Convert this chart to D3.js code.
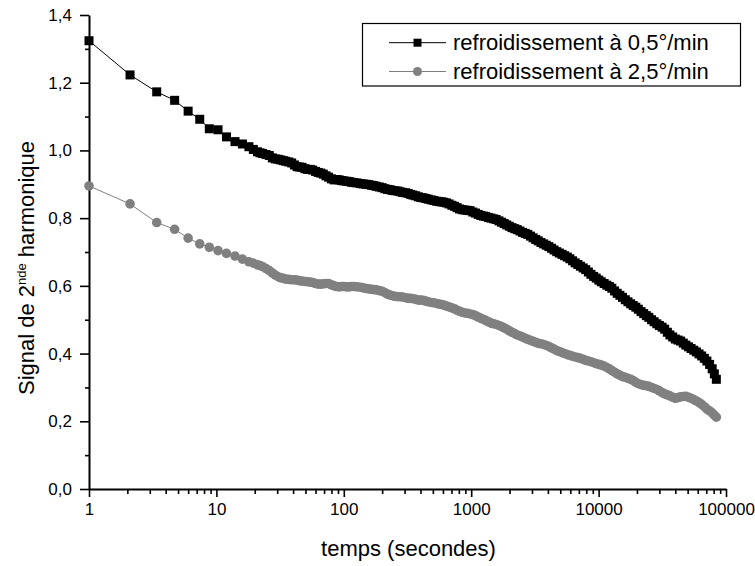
<!DOCTYPE html>
<html>
<head>
<meta charset="utf-8">
<script src="https://cdn.jsdelivr.net/npm/d3@7"></script>
<style>
  html, body { margin: 0; padding: 0; background: #fff; }
  svg { display: block; font-family: "Liberation Sans", Arial, sans-serif; }
</style>
</head>
<body>
<svg id="chart" width="755" height="566"></svg>
<script>
// ---- data ----
const times = [
  1, 2.1, 3.4, 4.7, 6, 7.4, 8.8, 10.3, 12, 14, 16, 18, 19.5,
  21, 22, 23, 24.5, 26, 27.5, 29, 30.5, 32, 33.5, 35, 37, 39, 41, 43, 45,
  47, 49.5, 52, 54.5, 57, 60, 63, 66, 69, 72.5, 76, 80, 84, 88, 92, 96,
  100, 105, 110, 115, 120, 127, 135, 142, 150, 157, 165, 172, 180, 190, 200, 210,
  220, 230, 240, 252, 265, 277, 290, 305, 320, 335, 350, 367, 385, 402, 420, 440,
  460, 485, 510, 535, 560, 585, 610, 640, 670, 705, 740, 775, 810, 850, 890, 935, 980,
  1030, 1080, 1135, 1190, 1245, 1300, 1365, 1430, 1500, 1570, 1650, 1730, 1815, 1900, 1995, 2090,
  2195, 2300, 2415, 2530, 2655, 2780, 2920, 3060, 3210, 3360, 3530, 3700, 3885, 4070, 4270, 4470,
  4695, 4920, 5165, 5410, 5680, 5950, 6250, 6550, 6875, 7200, 7560, 7920, 8315, 8710, 9145, 9580,
  10040, 10500, 11050, 11600, 12150, 12700, 13350, 14000, 14700, 15400, 16200, 17000, 17850, 18700, 19600, 20500,
  21550, 22600, 23700, 24800, 26050, 27300, 28650, 30000, 31500, 33000, 34650, 36300, 38150, 40000, 42000, 44000,
  46200, 48400, 50800, 53200, 55850, 58500, 61450, 64400, 67600, 70800, 74350, 77900, 81000, 84000];

const slowCooling = [
  1.324, 1.223, 1.173, 1.148, 1.116, 1.092, 1.064, 1.061, 1.040, 1.026, 1.019, 1.011, 1.003,
  0.996, 0.993, 0.991, 0.988, 0.985, 0.978, 0.975, 0.974, 0.972, 0.970, 0.968, 0.966, 0.963, 0.957, 0.952, 0.951,
  0.950, 0.946, 0.944, 0.944, 0.942, 0.938, 0.935, 0.933, 0.930, 0.925, 0.921, 0.916, 0.913, 0.914, 0.913, 0.911,
  0.910, 0.909, 0.908, 0.906, 0.905, 0.904, 0.902, 0.901, 0.900, 0.899, 0.897, 0.896, 0.894, 0.892, 0.890, 0.887,
  0.885, 0.884, 0.882, 0.881, 0.880, 0.878, 0.876, 0.875, 0.873, 0.870, 0.868, 0.866, 0.863, 0.861, 0.860, 0.858,
  0.856, 0.854, 0.852, 0.850, 0.849, 0.848, 0.847, 0.845, 0.842, 0.838, 0.835, 0.831, 0.827, 0.825, 0.824, 0.823, 0.822,
  0.818, 0.815, 0.811, 0.808, 0.806, 0.805, 0.802, 0.800, 0.798, 0.796, 0.792, 0.788, 0.784, 0.780, 0.776, 0.772,
  0.769, 0.766, 0.762, 0.758, 0.755, 0.752, 0.747, 0.742, 0.737, 0.733, 0.728, 0.724, 0.720, 0.716, 0.711, 0.706,
  0.701, 0.697, 0.693, 0.689, 0.685, 0.680, 0.674, 0.668, 0.663, 0.658, 0.653, 0.648, 0.641, 0.634, 0.628, 0.623,
  0.617, 0.612, 0.607, 0.602, 0.598, 0.593, 0.585, 0.578, 0.572, 0.566, 0.559, 0.553, 0.547, 0.542, 0.537, 0.531,
  0.524, 0.518, 0.512, 0.507, 0.500, 0.494, 0.488, 0.483, 0.478, 0.472, 0.463, 0.455, 0.449, 0.443, 0.440, 0.437,
  0.431, 0.425, 0.420, 0.415, 0.410, 0.405, 0.399, 0.393, 0.386, 0.378, 0.368, 0.355, 0.340, 0.324];

const fastCooling = [
  0.895, 0.842, 0.787, 0.767, 0.741, 0.724, 0.714, 0.704, 0.696, 0.688, 0.679, 0.671, 0.667,
  0.662, 0.660, 0.657, 0.651, 0.645, 0.638, 0.632, 0.627, 0.624, 0.622, 0.620, 0.619, 0.618, 0.618, 0.617, 0.615,
  0.614, 0.613, 0.612, 0.611, 0.610, 0.607, 0.605, 0.605, 0.606, 0.607, 0.607, 0.603, 0.600, 0.598, 0.597, 0.598,
  0.598, 0.597, 0.597, 0.598, 0.598, 0.597, 0.596, 0.594, 0.592, 0.591, 0.590, 0.589, 0.588, 0.586, 0.584, 0.580,
  0.576, 0.573, 0.571, 0.569, 0.568, 0.568, 0.567, 0.565, 0.563, 0.563, 0.562, 0.560, 0.558, 0.558, 0.557, 0.555,
  0.553, 0.551, 0.550, 0.548, 0.546, 0.545, 0.543, 0.540, 0.538, 0.535, 0.532, 0.528, 0.525, 0.522, 0.520, 0.519, 0.517,
  0.515, 0.512, 0.508, 0.504, 0.501, 0.498, 0.494, 0.490, 0.488, 0.486, 0.483, 0.480, 0.476, 0.472, 0.467, 0.463,
  0.459, 0.455, 0.452, 0.449, 0.445, 0.442, 0.439, 0.436, 0.433, 0.430, 0.429, 0.427, 0.424, 0.421, 0.417, 0.413,
  0.409, 0.406, 0.403, 0.400, 0.397, 0.395, 0.392, 0.390, 0.388, 0.386, 0.383, 0.380, 0.378, 0.376, 0.373, 0.370,
  0.368, 0.366, 0.363, 0.359, 0.355, 0.350, 0.345, 0.340, 0.336, 0.332, 0.330, 0.327, 0.324, 0.320, 0.315, 0.311,
  0.308, 0.306, 0.305, 0.303, 0.300, 0.297, 0.294, 0.290, 0.285, 0.281, 0.278, 0.275, 0.271, 0.268, 0.270, 0.272,
  0.273, 0.274, 0.271, 0.268, 0.264, 0.260, 0.255, 0.250, 0.243, 0.236, 0.231, 0.225, 0.218, 0.212];

const seriesNames = ["refroidissement à 0,5°/min", "refroidissement à 2,5°/min"];
const xMajorTicks = [1, 10, 100, 1000, 10000, 100000];
const yMajorTicks = [0, 0.2, 0.4, 0.6, 0.8, 1.0, 1.2, 1.4];
const yMinorTicks = [0.1, 0.3, 0.5, 0.7, 0.9, 1.1, 1.3];
const xTitle = "temps (secondes)";

// ---- layout ----
(function () {
const svg = d3.select("#chart");
const mLeft = 89, mRight = 726, mTop = 15, mBottom = 489;

const x = d3.scaleLog().domain([1, 100000]).range([mLeft, mRight]);
const y = d3.scaleLinear().domain([0, 1.4]).range([mBottom, mTop]);

const xMinorTicks = [];
for (let d = 1; d < 100000; d *= 10) for (let k = 2; k <= 9; k++) xMinorTicks.push(d * k);

const fmtY = d => d.toFixed(1).replace(".", ",");

// minor ticks
svg.append("g").attr("transform", `translate(0,${mBottom})`)
  .call(d3.axisBottom(x).tickValues(xMinorTicks).tickSize(5).tickFormat(""))
  .call(g => g.select(".domain").remove())
  .call(g => g.selectAll("line").attr("stroke", "#000").attr("stroke-width", 1.6));
svg.append("g").attr("transform", `translate(${mLeft},0)`)
  .call(d3.axisLeft(y).tickValues(yMinorTicks).tickSize(4).tickFormat(""))
  .call(g => g.select(".domain").remove())
  .call(g => g.selectAll("line").attr("stroke", "#000").attr("stroke-width", 1.6));

// major axes
const xAxis = svg.append("g").attr("transform", `translate(0,${mBottom})`)
  .call(d3.axisBottom(x).tickValues(xMajorTicks).tickSize(8).tickSizeOuter(0).tickPadding(6).tickFormat(d3.format("d")));
const yAxis = svg.append("g").attr("transform", `translate(${mLeft},0)`)
  .call(d3.axisLeft(y).tickValues(yMajorTicks).tickSize(9).tickSizeOuter(0).tickPadding(8).tickFormat(fmtY));
[xAxis, yAxis].forEach(g => {
  g.select(".domain").attr("stroke", "#000").attr("stroke-width", 2);
  g.selectAll(".tick line").attr("stroke", "#000").attr("stroke-width", 1.6);
  g.selectAll(".tick text").attr("fill", "#000").style("font-size", "17px")
    .style("font-family", '"Liberation Sans", Arial, sans-serif');
});

// axis titles
svg.append("text").attr("x", (mLeft + mRight) / 2 + 1).attr("y", 556).attr("text-anchor", "middle")
  .style("font-size", "22px").text(xTitle);

const yl = svg.append("text").attr("transform", "translate(34,268) rotate(-90)")
  .attr("text-anchor", "middle").style("font-size", "22px");
yl.append("tspan").text("Signal de 2");
yl.append("tspan").attr("dy", -8).style("font-size", "13px").text("nde");
yl.append("tspan").attr("dy", 8).text(" harmonique");

// series
const dataA = times.map((t, i) => ({ t, v: slowCooling[i] }));
const dataB = times.map((t, i) => ({ t, v: fastCooling[i] }));
const line = d3.line().x(d => x(d.t)).y(d => y(d.v));

svg.append("path").datum(dataB).attr("d", line).attr("fill", "none").attr("stroke", "#808080").attr("stroke-width", 1);
svg.append("g").selectAll("circle").data(dataB).join("circle")
  .attr("cx", d => x(d.t)).attr("cy", d => y(d.v)).attr("r", 4.8).attr("fill", "#808080");

svg.append("path").datum(dataA).attr("d", line).attr("fill", "none").attr("stroke", "#000").attr("stroke-width", 1);
const sq = 9;
svg.append("g").selectAll("rect").data(dataA).join("rect")
  .attr("x", d => x(d.t) - sq / 2).attr("y", d => y(d.v) - sq / 2)
  .attr("width", sq).attr("height", sq).attr("fill", "#000");

// legend
const lg = svg.append("g");
lg.append("rect").attr("x", 362.5).attr("y", 23.5).attr("width", 378).attr("height", 62.5)
  .attr("fill", "#fff").attr("stroke", "#000").attr("stroke-width", 1.2);
const rows = [
  { name: seriesNames[0], color: "#000", shape: "square", cy: 42.7 },
  { name: seriesNames[1], color: "#808080", shape: "circle", cy: 71.5 }
];
rows.forEach(r => {
  lg.append("line").attr("x1", 389).attr("x2", 446).attr("y1", r.cy).attr("y2", r.cy)
    .attr("stroke", r.color).attr("stroke-width", 1);
  if (r.shape === "square") {
    lg.append("rect").attr("x", 417.5 - 4).attr("y", r.cy - 4).attr("width", 8).attr("height", 8).attr("fill", r.color);
  } else {
    lg.append("circle").attr("cx", 417.5).attr("cy", r.cy).attr("r", 4.5).attr("fill", r.color);
  }
  lg.append("text").attr("x", 453).attr("y", r.cy + 7.5).style("font-size", "22px").attr("fill", "#000").text(r.name);
});
})();
</script>
</body>
</html>
